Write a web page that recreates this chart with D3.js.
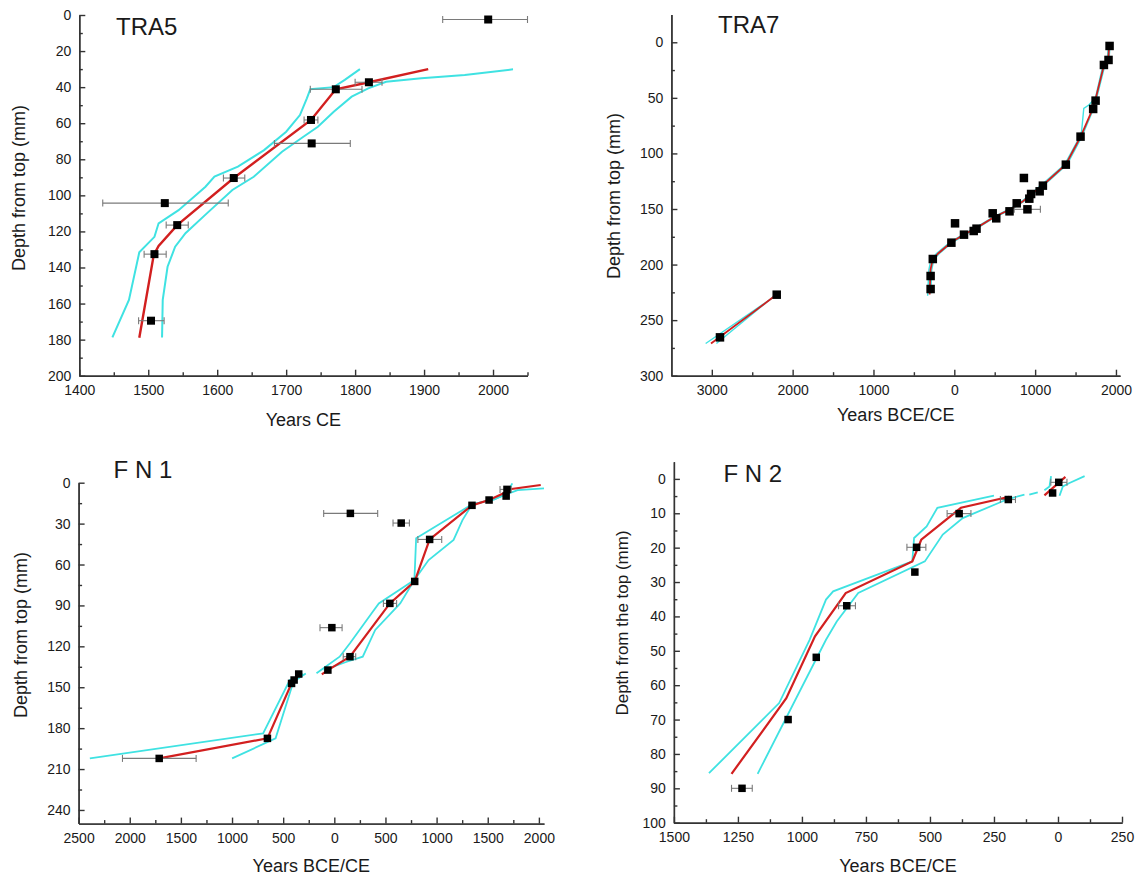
<html>
<head>
    <meta charset="utf-8">
    <title>Age-depth models</title>
</head>
<style>
    body { margin: 0; background: #fff; }
    text { font-family: "Liberation Sans", Arial, sans-serif; fill: #1a1a1a; }
    .axis path, .axis line { stroke: #333; stroke-width: 1.4; }
    .axis text { font-size: 14px; }
</style>
<body>
<svg width="1142" height="879"></svg>
<script src="https://d3js.org/d3.v7.min.js" charset="utf-8"></script>
<script>

    // ---------- TRA5 ----------
    var tra5Year  = [1993, 1820, 1772, 1736, 1737, 1624, 1524, 1542, 1509, 1504];
    var tra5Depth = [2.5, 37.3, 41.2, 58.2, 71.2, 90.4, 104.3, 116.5, 132.6, 169.5];
    var tra5ErrLo = [1927, 1800, 1735, 1726, 1683, 1609, 1434, 1526, 1494, 1486];
    var tra5ErrHi = [2050, 1839, 1810, 1746, 1793, 1640, 1616, 1558, 1526, 1523];
    var tra5Age = [[[1906, 30], [1820, 37.3], [1772, 41.2], [1736, 58.2], [1624, 90.4], [1542, 116.5],
        [1515, 128], [1508, 133], [1487, 179]]];
    var tra5Old = [[[1807, 30], [1785, 36], [1769, 40], [1735, 41.2], [1730, 46.2], [1720, 55.5], [1700, 64.7],
        [1668, 74.9], [1630, 84.1], [1596, 89.6], [1583, 95.2], [1544, 108.2], [1515, 115.5], [1509, 123],
        [1487, 131.6], [1472, 158], [1448, 178.8]]];
    var tra5Young = [[[2029, 30.1], [1959, 33.3], [1896, 35.1], [1845, 37], [1819, 40.7], [1795, 45.3],
        [1769, 53.6], [1746, 62], [1725, 67.5], [1694, 75.8], [1653, 89.7], [1622, 97], [1585, 110],
        [1554, 121], [1539, 128.5], [1528, 139.6], [1521, 158], [1520, 178.8]]];
    var tra5XTicks = [1400, 1500, 1600, 1700, 1800, 1900, 2000];
    var tra5XMinor = [1450, 1550, 1650, 1750, 1850, 1950, 2050];
    var tra5YTicks = [0, 20, 40, 60, 80, 100, 120, 140, 160, 180, 200];
    var tra5YMinor = [10, 30, 50, 70, 90, 110, 130, 150, 170, 190];

    // ---------- TRA7 ----------
    var tra7Year  = [1921, 1908, 1851, 1748, 1718, 1562, 1380, 861, 1096, 1056, 950, 928, 772, 905, 683, 475,
        519, 9, 275, 240, 120, -36, -266, -293, -293, -2197, -2899];
    var tra7Depth = [3.3, 15.9, 20.4, 52.5, 60, 84.9, 110.1, 122.1, 129, 134.1, 136.5, 140.7, 144.9, 150.3,
        152.1, 153.9, 158.4, 162.9, 167.7, 169.8, 173.1, 180.3, 195, 210.3, 222, 227.1, 265.5];
    var tra7ErrLo = [null, null, null, null, null, null, null, null, null, null, null, null, null, 741,
        null, null, null, null, null, null, null, null, null, null, null, null, null];
    var tra7ErrHi = [null, null, null, null, null, null, null, null, null, null, null, null, null, 1065,
        null, null, null, null, null, null, null, null, null, null, null, null, null];
    var tra7Age = [
        [[1915, 3], [1905, 16], [1850, 21], [1745, 52], [1700, 62], [1562, 85], [1380, 110], [1150, 125],
            [1000, 134], [850, 143], [700, 150], [500, 157], [275, 167], [120, 173], [-36, 180], [-200, 190],
            [-270, 196], [-295, 205], [-305, 227]],
        [[-2197, 227], [-3010, 271]]];
    var tra7Old = [
        [[1905, 3], [1893, 16], [1838, 21], [1746, 50], [1664, 56.4], [1602, 59.4], [1575, 80], [1545, 86],
            [1365, 110], [1130, 125], [985, 134], [835, 143], [685, 150], [485, 157], [260, 167], [105, 173],
            [-55, 180], [-220, 190], [-290, 196], [-315, 205], [-330, 228]],
        [[-2190, 227], [-3076, 271]]];
    var tra7Young = [
        [[1925, 3], [1915, 16], [1862, 21], [1755, 52], [1710, 62], [1578, 85], [1395, 110], [1165, 125],
            [1015, 134], [865, 143], [715, 150], [515, 157], [290, 167], [135, 173], [-20, 180], [-185, 190],
            [-255, 196], [-280, 205], [-290, 226]],
        [[-2205, 227], [-2943, 271]]];
    var tra7XTicks = [-3000, -2000, -1000, 0, 1000, 2000];
    var tra7XMinor = [-2500, -1500, -500, 500, 1500];
    var tra7YTicks = [0, 50, 100, 150, 200, 250, 300];
    var tra7YMinor = [25, 75, 125, 175, 225, 275];

    // ---------- F N 1 ----------
    var fn1Year  = [1688, 1680, 1513, 1346, 157, 654, 932, 786, 543, -24, 153, -63, -348, -393, -418, -654, -1712];
    var fn1Depth = [4.9, 9.8, 12.7, 16.6, 22.5, 29.6, 41.6, 72.4, 88.5, 106.3, 127.6, 137.4, 140.3, 144.7,
        147.2, 187.5, 202.2];
    var fn1ErrLo = [1620, null, null, null, -104, 574, 817, null, 480, -140, 87, null, null, null, null, null, -2071];
    var fn1ErrHi = [1730, null, null, null, 424, 734, 1050, null, 609, 76, 209, null, null, null, null, null, -1351];
    var fn1Age = [
        [[2018, 1.7], [1715, 4.8], [1676, 7], [1513, 12.7], [1346, 16.6], [932, 41.6], [786, 72.4], [543, 88.5],
            [153, 127.6], [-63, 137.4], [-122, 140.5]],
        [[-330, 139.5], [-418, 147.2], [-654, 187.5], [-1712, 202.2]]];
    var fn1Old = [
        [[1740, 0.5], [1688, 7.8], [1566, 12.2], [1346, 15.9], [800, 40.8], [783, 71.4], [435, 88.5],
            [365, 95.8], [153, 117.8], [52, 127.6], [-174, 139.8]],
        [[-303, 140.3], [-435, 144.7], [-696, 183.8], [-2390, 202.2]]];
    var fn1Young = [
        [[2050, 4.2], [1792, 5.4], [1700, 8], [1566, 12], [1346, 16], [1253, 27.4], [1166, 42], [922, 56.7],
            [783, 71.4], [644, 88.5], [400, 108], [278, 127.6], [122, 131.3], [-104, 137.4]],
        [[-279, 140], [-400, 146], [-574, 187.5], [-999, 202.2]]];
    var fn1XTicks = [-2500, -2000, -1500, -1000, -500, 0, 500, 1000, 1500, 2000];
    var fn1XMinor = [-2250, -1750, -1250, -750, -250, 250, 750, 1250, 1750];
    var fn1YTicks = [0, 30, 60, 90, 120, 150, 180, 210, 240];
    var fn1YMinor = [15, 45, 75, 105, 135, 165, 195, 225];

    // ---------- F N 2 ----------
    var fn2Year  = [3, -21, -194, -386, -552, -559, -825, -944, -1054, -1234];
    var fn2Depth = [1, 4.1, 6, 10.1, 19.9, 27.1, 36.9, 51.9, 70, 90];
    var fn2ErrLo = [-28, null, -225, -433, -590, null, -857, null, null, -1275];
    var fn2ErrHi = [35, null, -166, -340, -516, null, -791, null, null, -1194];
    var fn2Age = [
        [[-190, 5.2], [-379, 8.4], [-534, 17.7], [-569, 24], [-829, 33.2], [-949, 45.8], [-1061, 63.8], [-1275, 85.8]],
        [[-53, 4.8], [29, -0.6]]];
    var fn2Old = [
        [[-250, 4.9], [-471, 8.4], [-513, 13.8], [-562, 17.2], [-569, 24], [-878, 32.7], [-906, 35.1],
            [-970, 46.8], [-1089, 65.2], [-1363, 85.6]],
        [[-53, 3.3], [-33, 2.2], [-27, -0.8]]];
    var fn2Young = [
        [[-131, 4.6], [-177, 5.5], [-216, 6.5], [-372, 11.4], [-450, 16.2], [-520, 24], [-780, 33.2],
            [-864, 41.5], [-906, 46.8], [-1173, 85.8]],
        [[-112, 4.6], [-79, 3.9]],
        [[6, 4.9], [19, 2.2], [45, 1.2], [104, -0.8]]];
    var fn2XTicks = [-1500, -1250, -1000, -750, -500, -250, 0, 250];
    var fn2XMinor = [-1375, -1125, -875, -625, -375, -125, 125];
    var fn2YTicks = [0, 10, 20, 30, 40, 50, 60, 70, 80, 90, 100];
    var fn2YMinor = [5, 15, 25, 35, 45, 55, 65, 75, 85, 95];

    var red = '#d21f1f', cyan = '#3fe2e2', grey = '#7a7a7a';
    var svg = d3.select('svg');

    function panel(p) {
        var x = d3.scaleLinear().domain(p.xDomain).range([p.left, p.right]);
        var y = d3.scaleLinear().domain(p.yDomain).range([p.top, p.bottom]);
        var g = svg.append('g');

        // minor ticks
        g.append('g').attr('class', 'axis').attr('transform', 'translate(0,' + p.bottom + ')')
            .call(d3.axisBottom(x).tickValues(p.xMinor).tickSizeInner(-3.5).tickSizeOuter(0).tickFormat(''));
        g.append('g').attr('class', 'axis').attr('transform', 'translate(' + p.left + ',0)')
            .call(d3.axisLeft(y).tickValues(p.yMinor).tickSizeInner(-3.5).tickSizeOuter(0).tickFormat(''));
        // major ticks
        g.append('g').attr('class', 'axis').attr('transform', 'translate(0,' + p.bottom + ')')
            .call(d3.axisBottom(x).tickValues(p.xTicks).tickSizeInner(-6).tickSizeOuter(0).tickPadding(9)
                .tickFormat(function (d) { return Math.abs(d); }));
        g.append('g').attr('class', 'axis').attr('transform', 'translate(' + p.left + ',0)')
            .call(d3.axisLeft(y).tickValues(p.yTicks).tickSizeInner(-6).tickSizeOuter(0).tickPadding(8));

        var line = d3.line().x(function (d) { return x(d[0]); }).y(function (d) { return y(d[1]); });

        p.old.concat(p.young).forEach(function (seg) {
            g.append('path').attr('d', line(seg)).attr('fill', 'none')
                .attr('stroke', cyan).attr('stroke-width', p.lw);
        });
        p.age.forEach(function (seg) {
            g.append('path').attr('d', line(seg)).attr('fill', 'none')
                .attr('stroke', red).attr('stroke-width', p.lw + 0.4);
        });

        // error bars
        p.year.forEach(function (v, i) {
            if (p.errLo[i] == null) return;
            var yy = y(p.depth[i]), x0 = x(p.errLo[i]), x1 = x(p.errHi[i]);
            g.append('line').attr('x1', x0).attr('x2', x1).attr('y1', yy).attr('y2', yy)
                .attr('stroke', grey).attr('stroke-width', 1.1);
            [x0, x1].forEach(function (xx) {
                g.append('line').attr('x1', xx).attr('x2', xx).attr('y1', yy - 3.5).attr('y2', yy + 3.5)
                    .attr('stroke', grey).attr('stroke-width', 1.1);
            });
        });

        // dated points
        g.selectAll('rect.pt').data(p.year).enter().append('rect')
            .attr('x', function (d) { return x(d) - p.sq / 2; })
            .attr('y', function (d, i) { return y(p.depth[i]) - p.sq / 2; })
            .attr('width', p.sq).attr('height', p.sq).attr('fill', '#000');

        g.append('text').attr('x', p.titleX).attr('y', p.titleY).attr('font-size', '24px').text(p.title);
        g.append('text').attr('x', (p.left + p.right) / 2).attr('y', p.xLabelY)
            .attr('text-anchor', 'middle').attr('font-size', '18px').text(p.xLabel);
        g.append('text').attr('transform', 'translate(' + p.yLabelX + ',' + p.yLabelY + ') rotate(-90)')
            .attr('text-anchor', 'middle').attr('font-size', p.yLabelSize).text(p.yLabel);
    }

    panel({
        year: tra5Year, depth: tra5Depth, errLo: tra5ErrLo, errHi: tra5ErrHi,
        age: tra5Age, old: tra5Old, young: tra5Young,
        xTicks: tra5XTicks, xMinor: tra5XMinor, yTicks: tra5YTicks, yMinor: tra5YMinor,
        xDomain: [1400, 2050], yDomain: [0, 200], left: 79.3, right: 527.5, top: 15, bottom: 375.7,
        lw: 2, sq: 8, title: 'TRA5', titleX: 116, titleY: 35,
        xLabel: 'Years CE', xLabelY: 426, yLabel: 'Depth from top (mm)', yLabelX: 25, yLabelY: 188, yLabelSize: '18px'
    });

    panel({
        year: tra7Year, depth: tra7Depth, errLo: tra7ErrLo, errHi: tra7ErrHi,
        age: tra7Age, old: tra7Old, young: tra7Young,
        xTicks: tra7XTicks, xMinor: tra7XMinor, yTicks: tra7YTicks, yMinor: tra7YMinor,
        xDomain: [-3500, 2050], yDomain: [-25, 300], left: 671.4, right: 1120, top: 14.5, bottom: 375.7,
        lw: 1.4, sq: 8.5, title: 'TRA7', titleX: 718, titleY: 33,
        xLabel: 'Years BCE/CE', xLabelY: 421, yLabel: 'Depth from top (mm)', yLabelX: 620, yLabelY: 196, yLabelSize: '18px'
    });

    panel({
        year: fn1Year, depth: fn1Depth, errLo: fn1ErrLo, errHi: fn1ErrHi,
        age: fn1Age, old: fn1Old, young: fn1Young,
        xTicks: fn1XTicks, xMinor: fn1XMinor, yTicks: fn1YTicks, yMinor: fn1YMinor,
        xDomain: [-2500, 2050], yDomain: [0, 250], left: 78.6, right: 544, top: 482.7, bottom: 823.6,
        lw: 1.8, sq: 7.5, title: 'F N 1', titleX: 113.6, titleY: 478,
        xLabel: 'Years BCE/CE', xLabelY: 872, yLabel: 'Depth from top (mm)', yLabelX: 27, yLabelY: 635, yLabelSize: '18px'
    });

    panel({
        year: fn2Year, depth: fn2Depth, errLo: fn2ErrLo, errHi: fn2ErrHi,
        age: fn2Age, old: fn2Old, young: fn2Young,
        xTicks: fn2XTicks, xMinor: fn2XMinor, yTicks: fn2YTicks, yMinor: fn2YMinor,
        xDomain: [-1500, 250], yDomain: [-5, 100], left: 673.9, right: 1122, top: 461.7, bottom: 822.7,
        lw: 1.8, sq: 7.5, title: 'F N 2', titleX: 723.4, titleY: 482,
        xLabel: 'Years BCE/CE', xLabelY: 872, yLabel: 'Depth from the top (mm)', yLabelX: 628, yLabelY: 623, yLabelSize: '17px'
    });

</script>
</body>
</html>
